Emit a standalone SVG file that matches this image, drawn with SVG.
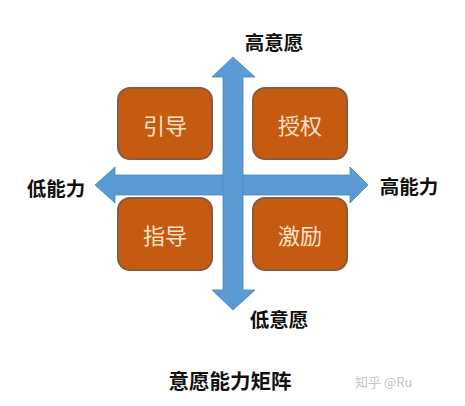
<svg xmlns="http://www.w3.org/2000/svg" width="465" height="406" viewBox="0 0 465 406">
<style>
.arrow{fill:#5B9BD5;stroke:#4A86BE;stroke-width:0.8}
.box{fill:#C55A11;stroke:#8C5A3C;stroke-width:2}
.bt{font-family:"Noto Sans CJK SC","Noto Sans",sans-serif;font-size:22px;fill:#FBE3C8;text-anchor:middle;dominant-baseline:central}
.lbl{font-family:"Noto Sans CJK SC","Noto Sans",sans-serif;font-size:19.5px;font-weight:bold;fill:#111;text-anchor:middle;dominant-baseline:central}
.wm{font-family:"Noto Sans CJK SC","Noto Sans",sans-serif;font-size:13px;fill:#C4C4C4;dominant-baseline:central}
</style>
<rect width="465" height="406" fill="#fff"/>
<g id="connectors">
<path class="arrow" d="M95,185 L115,167 L115,175 L350,175 L350,167 L368,185 L350,203 L350,195 L115,195 L115,203 Z"/>
<path class="arrow" d="M233,57 L255,77 L243,77 L243,290 L255,290 L233,310 L212,290 L223,290 L223,77 L212,77 Z"/>
</g>
<g id="node-yindao"><rect class="box" x="118" y="88" width="94" height="71" rx="12"/><text class="bt" x="165" y="124">引导</text></g>
<g id="node-shouquan"><rect class="box" x="253" y="88" width="94" height="71" rx="12"/><text class="bt" x="300" y="124">授权</text></g>
<g id="node-zhidao"><rect class="box" x="118" y="198" width="94" height="72" rx="12"/><text class="bt" x="165" y="234">指导</text></g>
<g id="node-jili"><rect class="box" x="253" y="198" width="94" height="72" rx="12"/><text class="bt" x="300" y="234">激励</text></g>
<g id="labels">
<text class="lbl" x="274" y="41">高意愿</text>
<text class="lbl" x="279" y="318">低意愿</text>
<text class="lbl" x="56" y="187">低能力</text>
<text class="lbl" x="409" y="185">高能力</text>
<text class="lbl" x="230" y="380" style="font-size:20.5px">意愿能力矩阵</text>
<text class="wm" x="355" y="381">知乎 @Ru</text>
</g>
</svg>
